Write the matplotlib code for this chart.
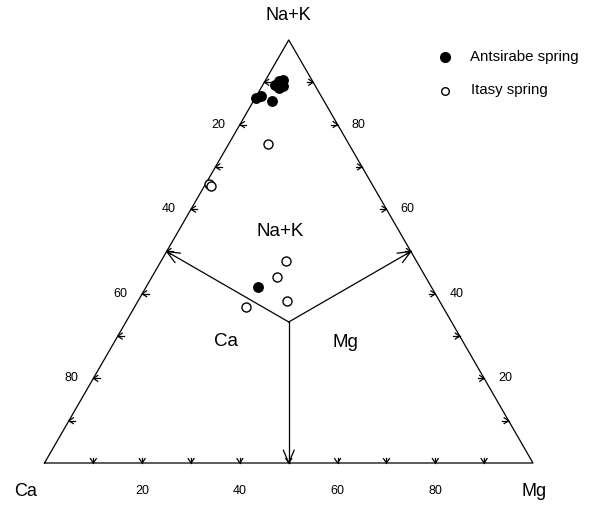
import numpy as np
import matplotlib
matplotlib.use("Agg")
import matplotlib.pyplot as plt

plt.rcParams['font.family'] = ['Liberation Sans', 'DejaVu Sans']

# ---- data (percent of meq) ----
ant_ca  = [13.5, 12.3, 10.6, 8.1, 6.8, 5.9, 7.7, 6.6, 35.6]
ant_mg  = [0.2, 0.9, 3.8, 2.5, 2.9, 3.6, 3.7, 4.3, 22.9]
ant_nak = [86.3, 86.8, 85.6, 89.4, 90.3, 90.5, 88.6, 89.1, 41.5]

ita_ca  = [16.5, 33.3, 33.3, 26.7, 30.4, 31.1, 40.4]
ita_mg  = [8.1, 0.7, 1.3, 25.5, 25.6, 30.5, 22.8]
ita_nak = [75.4, 66.0, 65.4, 47.8, 44.0, 38.4, 36.8]

tick_values = [10, 20, 30, 40, 50, 60, 70, 80, 90]
label_values = [20, 40, 60, 80]
vertex_labels = ["Ca", "Mg", "Na+K"]
field_labels = ["Na+K", "Ca", "Mg"]
legend_labels = ["Antsirabe spring", "Itasy spring"]

S3 = np.sqrt(3) / 2
PX = 4.885  # pixels per data unit


def tern(ca, mg, nak):
    ca, mg, nak = (np.asarray(v, float) for v in (ca, mg, nak))
    tot = ca + mg + nak
    return 100 * (mg + nak / 2) / tot, 100 * nak * S3 / tot


fig = plt.figure(figsize=(5.97, 5.05), dpi=100)
ax = fig.add_axes([0, 0, 1, 1])
ax.set_xlim(-44.5 / PX, (597 - 44.5) / PX)
ax.set_ylim((463 - 505) / PX, 463 / PX)
ax.axis('off')

lw = 0.9
# triangle
vx, vy = tern([100, 0, 0, 100], [0, 100, 0, 0], [0, 0, 100, 0])
ax.plot(vx, vy, color='black', lw=lw)


def chevron(x, y, dx, dy, length, half, stub=0.0):
    # tip at (x, y), pointing in direction (dx, dy)
    n = np.hypot(dx, dy)
    dx, dy = dx / n, dy / n
    px, py = -dy, dx
    bx, by = x - dx * length, y - dy * length
    ax.plot([bx + px * half, x, bx - px * half],
            [by + py * half, y, by - py * half], color='black', lw=lw)
    if stub:
        ax.plot([x, x - dx * stub], [y, y - dy * stub], color='black', lw=lw)


# ticks
for t in tick_values:
    # left edge: Ca percentage
    x, y = tern(t, 0, 100 - t)
    chevron(x, y, -1, 0, 0.9, 0.6, 1.3)
    # right edge: Na+K percentage
    x, y = tern(0, 100 - t, t)
    chevron(x, y, 1, 0, 0.9, 0.6, 1.3)
    # bottom edge: Mg percentage
    x, y = tern(100 - t, t, 0)
    chevron(x, y, 0, -1, 0.9, 0.6, 1.0)

for t in label_values:
    x, y = tern(t, 0, 100 - t)
    ax.text(x - 22 / PX, y, str(t), ha='center', va='center', fontsize=9)
    x, y = tern(0, 100 - t, t)
    ax.text(x + 21 / PX, y, str(t), ha='center', va='center', fontsize=9)
    x, y = tern(100 - t, t, 0)
    ax.text(x, y - 28 / PX, str(t), ha='center', va='center', fontsize=9)

# internal division arrows (centroid to edge midpoints)
cx, cy = tern(1, 1, 1)
mids = [tern(50, 0, 50), tern(0, 50, 50), tern(50, 50, 0)]
for mx, my in mids:
    mx, my = float(mx), float(my)
    ax.plot([cx, mx], [cy, my], color='black', lw=lw)
    chevron(mx, my, mx - cx, my - cy, 2.6, 1.1)

# vertex labels
ax.text(vx[0] - 18.5 / PX, vy[0] - 29 / PX, vertex_labels[0], ha='center', va='center', fontsize=13)
ax.text(vx[1] + 1 / PX, vy[1] - 29 / PX, vertex_labels[1], ha='center', va='center', fontsize=13)
ax.text(vx[2], vy[2] + 24 / PX, vertex_labels[2], ha='center', va='center', fontsize=13)

# field labels
ax.text(cx - 9 / PX, cy + 90 / PX, field_labels[0], ha='center', va='center', fontsize=13.5)
ax.text(cx - 63 / PX, cy - 20 / PX, field_labels[1], ha='center', va='center', fontsize=13.5)
ax.text(cx + 57 / PX, cy - 21 / PX, field_labels[2], ha='center', va='center', fontsize=13.5)

# data points
ax_x, ax_y = tern(ant_ca, ant_mg, ant_nak)
ix, iy = tern(ita_ca, ita_mg, ita_nak)
ax.plot(ix, iy, 'o', ms=6.5, mfc='white', mec='black', mew=1.0, ls='none', zorder=3)
ax.plot(ax_x, ax_y, 'o', ms=6.8, mfc='black', mec='black', ls='none', zorder=4)

# legend (manual)
lx = (445 - 44.5) / PX
ax.plot([lx], [(463 - 57) / PX], 'o', ms=7, mfc='black', mec='black')
ax.plot([lx], [(463 - 91) / PX], 'o', ms=5.5, mfc='white', mec='black', mew=1.0)
ax.text((470 - 44.5) / PX, (463 - 57) / PX, legend_labels[0], ha='left', va='center', fontsize=10.8)
ax.text((471 - 44.5) / PX, (463 - 90) / PX, legend_labels[1], ha='left', va='center', fontsize=10.8)

fig.savefig('out.png', dpi=100)
